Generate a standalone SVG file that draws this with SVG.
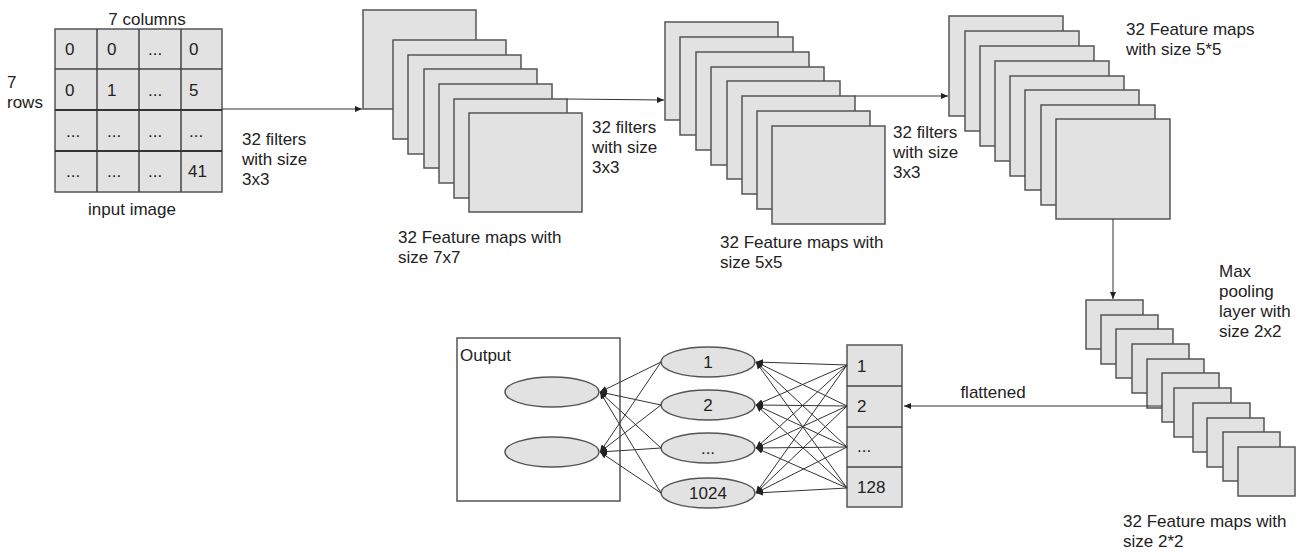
<svg xmlns="http://www.w3.org/2000/svg" width="1301" height="552" viewBox="0 0 1301 552">
<defs>
<style>
.t{font-family:"Liberation Sans",Arial,sans-serif;font-size:17px;fill:#222}
.m{fill:#e2e2e2;stroke:#555;stroke-width:1.5}
.g{stroke:#444;stroke-width:1.5;fill:none}
.gb{stroke:#333;stroke-width:2.2;fill:none}
.c{stroke:#333;stroke-width:1;fill:none}
.ca{stroke:#333;stroke-width:1;fill:none;marker-end:url(#ah)}
.mid{text-anchor:middle}
</style>
<marker id="ah" markerWidth="8" markerHeight="6" refX="7" refY="3" orient="auto" markerUnits="userSpaceOnUse">
<path d="M0,0 L7,3 L0,6 z" fill="#222"/>
</marker>
</defs>
<rect width="1301" height="552" fill="#fff"/>

<g id="input">
<rect class="m" x="55" y="29" width="167" height="163"/>
<path class="g" d="M97,29V192M139,29V192M181,29V192M55,69H222"/>
<path class="gb" d="M55,110H222M55,151H222"/>
<text class="t mid" x="147" y="25">7 columns</text>
<text class="t" x="7" y="88">7</text>
<text class="t" x="7" y="108">rows</text>
<text class="t mid" x="132" y="215">input image</text>
<text class="t" x="65" y="55">0</text><text class="t" x="107" y="55">0</text><text class="t" x="148" y="55">...</text><text class="t" x="189" y="55">0</text>
<text class="t" x="65" y="96">0</text><text class="t" x="107" y="96">1</text><text class="t" x="148" y="96">...</text><text class="t" x="189" y="96">5</text>
<text class="t" x="66" y="137">...</text><text class="t" x="107" y="137">...</text><text class="t" x="148" y="137">...</text><text class="t" x="189" y="137">...</text>
<text class="t" x="66" y="177">...</text><text class="t" x="107" y="177">...</text><text class="t" x="148" y="177">...</text><text class="t" x="188" y="177">41</text>
</g>

<g id="conv1">
<rect class="m" x="363" y="10" width="113" height="99"/>
<rect class="m" x="393" y="40" width="113" height="99"/>
<rect class="m" x="408" y="55" width="113" height="99"/>
<rect class="m" x="424" y="69" width="113" height="99"/>
<rect class="m" x="439" y="84" width="113" height="99"/>
<rect class="m" x="454" y="99" width="113" height="99"/>
<rect class="m" x="469" y="113" width="113" height="99"/>
<text class="t" x="398" y="243">32 Feature maps with</text>
<text class="t" x="398" y="263">size 7x7</text>
</g>

<g id="conv2">
<rect class="m" x="665" y="22" width="113" height="98"/>
<rect class="m" x="680" y="37" width="113" height="98"/>
<rect class="m" x="696" y="52" width="113" height="98"/>
<rect class="m" x="711" y="67" width="113" height="98"/>
<rect class="m" x="727" y="81" width="113" height="98"/>
<rect class="m" x="742" y="96" width="113" height="98"/>
<rect class="m" x="757" y="111" width="113" height="98"/>
<rect class="m" x="772" y="126" width="113" height="98"/>
<text class="t" x="720" y="248">32 Feature maps with</text>
<text class="t" x="720" y="268">size 5x5</text>
</g>

<g id="conv3">
<rect class="m" x="949" y="16" width="114" height="100"/>
<rect class="m" x="965" y="31" width="114" height="100"/>
<rect class="m" x="980" y="46" width="114" height="100"/>
<rect class="m" x="995" y="61" width="114" height="100"/>
<rect class="m" x="1010" y="76" width="114" height="100"/>
<rect class="m" x="1025" y="90" width="114" height="100"/>
<rect class="m" x="1041" y="105" width="114" height="100"/>
<rect class="m" x="1056" y="119" width="114" height="100"/>
<text class="t" x="1126" y="35">32 Feature maps</text>
<text class="t" x="1126" y="55">with size 5*5</text>
</g>

<g id="pool">
<rect class="m" x="1086" y="300" width="57" height="49"/>
<rect class="m" x="1101" y="315" width="57" height="49"/>
<rect class="m" x="1116" y="329" width="57" height="49"/>
<rect class="m" x="1132" y="344" width="57" height="49"/>
<rect class="m" x="1147" y="359" width="57" height="49"/>
<rect class="m" x="1162" y="373" width="57" height="49"/>
<rect class="m" x="1174" y="388" width="57" height="49"/>
<rect class="m" x="1193" y="403" width="57" height="49"/>
<rect class="m" x="1207" y="418" width="57" height="49"/>
<rect class="m" x="1223" y="432" width="57" height="49"/>
<rect class="m" x="1238" y="447" width="57" height="49"/>
<text class="t" x="1219" y="277">Max</text>
<text class="t" x="1219" y="297">pooling</text>
<text class="t" x="1219" y="317">layer with</text>
<text class="t" x="1219" y="337">size 2x2</text>
<text class="t" x="1123" y="527">32 Feature maps with</text>
<text class="t" x="1123" y="547">size 2*2</text>
</g>

<g id="flat">
<rect class="m" x="847" y="345" width="55" height="162"/>
<path class="g" d="M847,386H902M847,427H902M847,467H902"/>
<text class="t" x="857" y="372">1</text>
<text class="t" x="857" y="412">2</text>
<text class="t" x="857" y="452">...</text>
<text class="t" x="857" y="493">128</text>
</g>

<g id="hidden">
<ellipse class="m" cx="708" cy="362" rx="47" ry="15"/>
<ellipse class="m" cx="708" cy="405" rx="47" ry="15"/>
<ellipse class="m" cx="708" cy="448" rx="47" ry="15"/>
<ellipse class="m" cx="708" cy="493" rx="47" ry="15"/>
<text class="t mid" x="708" y="368">1</text>
<text class="t mid" x="708" y="411">2</text>
<text class="t mid" x="708" y="454">...</text>
<text class="t mid" x="708" y="499">1024</text>
</g>

<g id="output">
<rect x="457" y="338" width="163" height="163" fill="none" stroke="#555" stroke-width="1.5"/>
<text class="t" x="460" y="361">Output</text>
<ellipse class="m" cx="552" cy="392" rx="47" ry="15"/>
<ellipse class="m" cx="552" cy="452" rx="47" ry="15"/>
</g>

<g id="connectors">
<path class="ca" d="M222,109H362"/>
<path class="ca" d="M567,99L664,100"/>
<path class="ca" d="M855,96H948"/>
<path class="ca" d="M1113,219V299"/>
<path class="ca" d="M1162,406H904"/>
<path class="ca" d="M847,365L756,362"/><path class="ca" d="M847,365L756,405"/><path class="ca" d="M847,365L756,448"/><path class="ca" d="M847,365L756,493"/>
<path class="ca" d="M847,406L756,362"/><path class="ca" d="M847,406L756,405"/><path class="ca" d="M847,406L756,448"/><path class="ca" d="M847,406L756,493"/>
<path class="ca" d="M847,447L756,362"/><path class="ca" d="M847,447L756,405"/><path class="ca" d="M847,447L756,448"/><path class="ca" d="M847,447L756,493"/>
<path class="ca" d="M847,488L756,362"/><path class="ca" d="M847,488L756,405"/><path class="ca" d="M847,488L756,448"/><path class="ca" d="M847,488L756,493"/>
<path class="ca" d="M661,362L600,392"/><path class="ca" d="M661,405L600,392"/><path class="ca" d="M661,448L600,392"/><path class="ca" d="M661,493L600,392"/>
<path class="ca" d="M661,362L600,452"/><path class="ca" d="M661,405L600,452"/><path class="ca" d="M661,448L600,452"/><path class="ca" d="M661,493L600,452"/>
</g>

<g id="labels">
<text class="t" x="242" y="145">32 filters</text>
<text class="t" x="242" y="165">with size</text>
<text class="t" x="242" y="185">3x3</text>
<text class="t" x="592" y="133">32 filters</text>
<text class="t" x="592" y="153">with size</text>
<text class="t" x="592" y="173">3x3</text>
<text class="t" x="893" y="138">32 filters</text>
<text class="t" x="893" y="158">with size</text>
<text class="t" x="893" y="178">3x3</text>
<text class="t mid" x="993" y="398">flattened</text>
</g>
</svg>
